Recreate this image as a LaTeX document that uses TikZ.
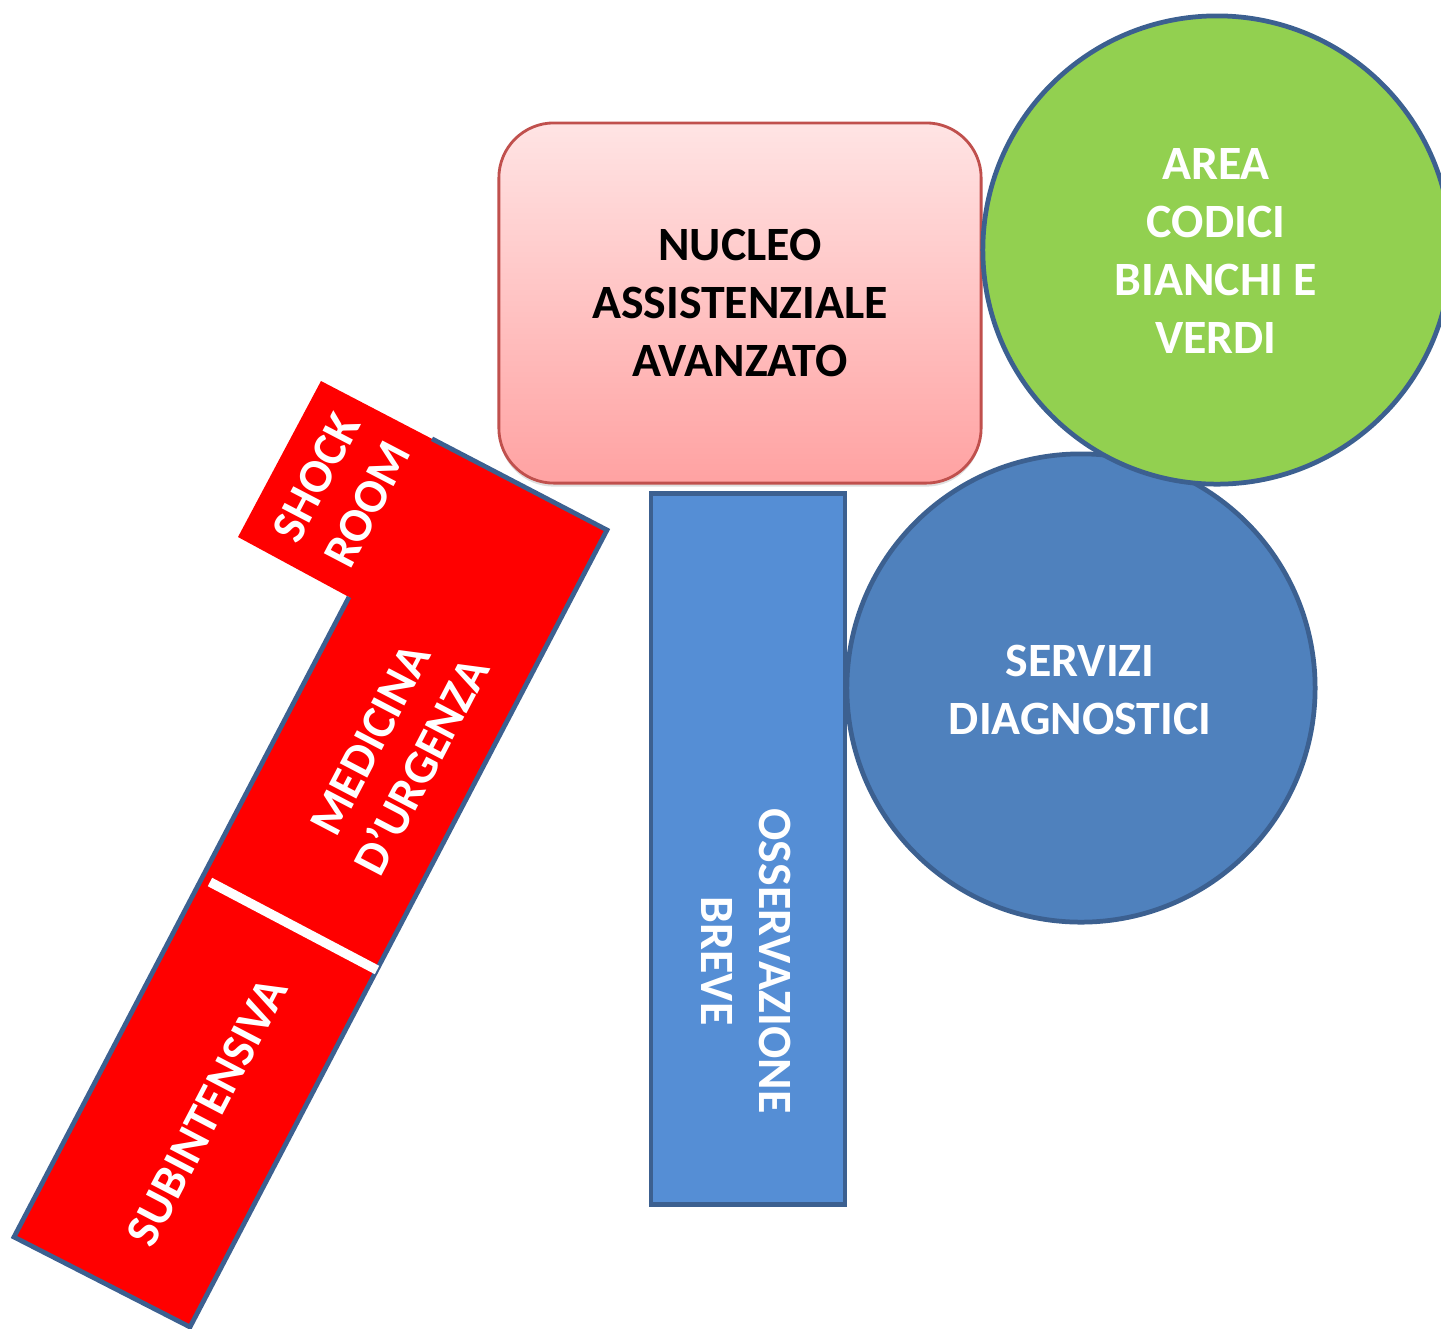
\documentclass[tikz,border=0pt]{standalone}
\usepackage{fontspec}
\setmainfont{Carlito}
\usetikzlibrary{shadows}
\definecolor{redfill}{HTML}{FF0000}
\definecolor{bordblue}{HTML}{3C6090}
\definecolor{rectblue}{HTML}{558ED5}
\definecolor{circblue}{HTML}{4F81BD}
\definecolor{greenfill}{HTML}{92D050}
\definecolor{pinktop}{HTML}{FFE4E4}
\definecolor{pinkbot}{HTML}{FFA2A2}
\definecolor{pinkbord}{HTML}{C0504D}
\tikzset{
  lbl/.style={font=\fontsize{13.6}{16.5}\selectfont\bfseries, align=center, inner sep=0pt},
  whitelbl/.style={lbl, text=white},
  blueborder/.style={draw=bordblue, line width=1.35pt},
}
\begin{document}
\begin{tikzpicture}[x=0.01cm,y=-0.01cm]
\useasboundingbox (0,0) rectangle (1441,1329);
\clip (0,0) rectangle (1441,1329);
% red zone
\coordinate (S1) at (321,381);
\coordinate (A) at (432,438.8);
\coordinate (B) at (607,530);
\coordinate (C) at (190,1327);
\coordinate (D) at (14,1237);
\coordinate (P) at (349,597);
\coordinate (S4) at (238,537);
\fill[redfill] (S1) -- (B) -- (C) -- (D) -- (P) -- (S4) -- cycle;
\draw[blueborder] (A) -- (B) -- (C) -- (D) -- (P);
\coordinate (W1) at (210,882);
\coordinate (W2) at (377,970);
\draw[white, line width=2.7pt] (W1) -- (W2);
\node[whitelbl, rotate=62.4] (shock) at (342,491) {SHOCK\\ROOM};
\node[whitelbl, rotate=62.4] (medicina) at (396,753) {MEDICINA\\D’URGENZA};
\node[whitelbl, rotate=62.4] (subint) at (207,1112) {SUBINTENSIVA};
% nucleo
\node[draw=pinkbord, line width=0.8pt, rounded corners=0.55cm,
      top color=pinktop, bottom color=pinkbot,
      drop shadow={opacity=0.25, shadow xshift=0pt, shadow yshift=-1pt},
      minimum width=4.82cm, minimum height=3.6cm, inner sep=0pt]
      (nucleo) at (740,303) {};
\node[lbl] (nucleotxt) at (nucleo.center) {NUCLEO\\ASSISTENZIALE\\AVANZATO};
% osservazione breve
\node[blueborder, fill=rectblue, minimum width=1.94cm, minimum height=7.1cm, inner sep=0pt]
      (oss) at (748,849) {};
\node[whitelbl, rotate=-90] (osstxt) at (746,961) {OSSERVAZIONE\\BREVE};
% servizi diagnostici
\node[blueborder, fill=circblue, circle, minimum size=4.68cm, inner sep=0pt]
      (servizi) at (1081,688) {};
\node[whitelbl] (servtxt) at (1080,690) {SERVIZI\\DIAGNOSTICI};
% area codici
\node[blueborder, fill=greenfill, circle, minimum size=4.68cm, inner sep=0pt]
      (area) at (1217,250) {};
\node[whitelbl] (areatxt) at (1216,251) {AREA\\CODICI\\BIANCHI E\\VERDI};
\end{tikzpicture}
\end{document}
